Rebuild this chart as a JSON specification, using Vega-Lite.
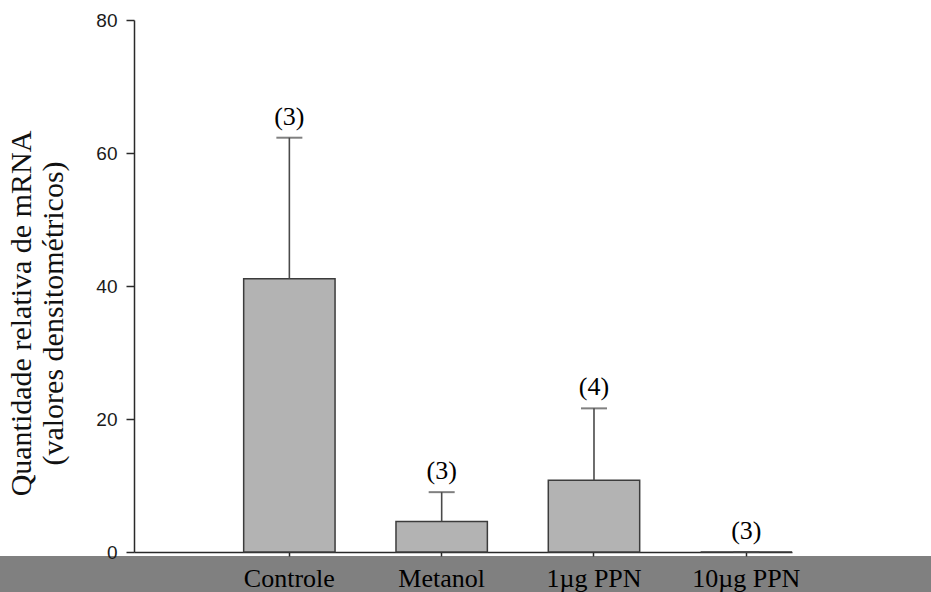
{
  "$schema": "https://vega.github.io/schema/vega-lite/v6.json",
  "width": 931,
  "height": 556,
  "autosize": {"type": "none"},
  "padding": {"left": 0, "top": 0, "right": 0, "bottom": 36},
  "background": "#808080",
  "config": {"view": {"fill": "#ffffff", "stroke": null}},
  "data": {
    "values": [
      {"grupo": "Controle", "media": 41.1, "superior": 62.3, "n": "(3)"},
      {"grupo": "Metanol", "media": 4.6, "superior": 9.0, "n": "(3)"},
      {"grupo": "1µg PPN", "media": 10.8, "superior": 21.6, "n": "(4)"},
      {"grupo": "10µg PPN", "media": 0, "superior": 0, "n": "(3)"}
    ]
  },
  "encoding": {
    "x": {
      "field": "grupo",
      "type": "nominal",
      "sort": null,
      "scale": {"type": "band", "range": [134, 792], "paddingInner": 0.4, "paddingOuter": 0.36, "align": 1},
      "axis": {
        "orient": "bottom",
        "offset": -4,
        "title": null,
        "domainColor": "#2a2a2a",
        "domainWidth": 1.5,
        "tickColor": "#2a2a2a",
        "tickWidth": 1.5,
        "tickSize": 4,
        "labelFont": "Liberation Serif",
        "labelFontSize": 26,
        "labelColor": "#000000",
        "labelPadding": 30,
        "labelBaseline": "alphabetic",
        "labelAngle": 0
      }
    }
  },
  "layer": [
    {
      "mark": {"type": "bar", "fill": "#b3b3b3", "stroke": "#3c3c3c", "strokeWidth": 1.5},
      "encoding": {
        "y": {
          "field": "media",
          "type": "quantitative",
          "scale": {"domain": [0, 80], "range": [552, 20], "nice": false},
          "axis": {
            "orient": "left",
            "offset": -134,
            "values": [0, 20, 40, 60, 80],
            "grid": false,
            "domainColor": "#2a2a2a",
            "domainWidth": 1.5,
            "tickColor": "#2a2a2a",
            "tickWidth": 1.5,
            "tickSize": 8,
            "labelFont": "Liberation Sans",
            "labelFontSize": 19,
            "labelColor": "#1a1a1a",
            "labelPadding": 9,
            "title": ["Quantidade relativa de mRNA", "(valores densitométricos)"],
            "titleFont": "Liberation Serif",
            "titleFontSize": 30,
            "titleFontWeight": "normal",
            "titleColor": "#111111",
            "titleLineHeight": 32,
            "titleAngle": 270,
            "titleAlign": "center",
            "titleBaseline": "alphabetic",
            "titleX": -104,
            "titleY": 313
          }
        }
      }
    },
    {
      "mark": {"type": "rule", "color": "#4a4a4a", "strokeWidth": 1.6},
      "encoding": {
        "y": {"field": "media", "type": "quantitative"},
        "y2": {"field": "superior"}
      }
    },
    {
      "mark": {"type": "tick", "color": "#4a4a4a", "thickness": 2, "size": 26},
      "encoding": {
        "y": {"field": "superior", "type": "quantitative"}
      }
    },
    {
      "mark": {"type": "text", "font": "Liberation Serif", "fontSize": 26, "color": "#000000", "baseline": "alphabetic", "dy": -13},
      "encoding": {
        "y": {"field": "superior", "type": "quantitative"},
        "text": {"field": "n"}
      }
    }
  ]
}
